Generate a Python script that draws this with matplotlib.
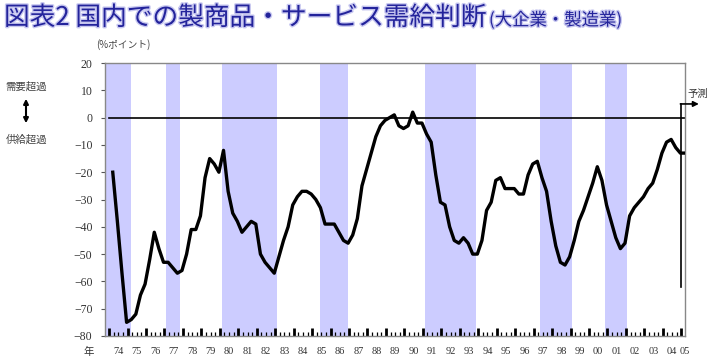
import numpy as np
import matplotlib
matplotlib.use("Agg")
import matplotlib.pyplot as plt
import matplotlib.patheffects as pe

# quarterly DI, 1974 Q1 .. 2005 Q1 (last point is the forecast)
di = [
    -20, -38, -57, -75,   # 74
    -74, -72, -65, -61,   # 75
    -52, -42, -48, -53,   # 76
    -53, -55, -57, -56,   # 77
    -50, -41, -41, -36,   # 78
    -22, -15, -17, -20,   # 79
    -12, -27, -35, -38,   # 80
    -42, -40, -38, -39,   # 81
    -50, -53, -55, -57,   # 82
    -51, -45, -40, -32,   # 83
    -29, -27, -27, -28,   # 84
    -30, -33, -39, -39,   # 85
    -39, -42, -45, -46,   # 86
    -43, -37, -25, -19,   # 87
    -13, -7, -3, -1,      # 88
    0, 1, -3, -4,         # 89
    -3, 2, -2, -2,        # 90
    -6, -9, -21, -31,     # 91
    -32, -40, -45, -46,   # 92
    -44, -46, -50, -50,   # 93
    -45, -34, -31, -23,   # 94
    -22, -26, -26, -26,   # 95
    -28, -28, -21, -17,   # 96
    -16, -22, -27, -38,   # 97
    -47, -53, -54, -51,   # 98
    -45, -38, -34, -29,   # 99
    -24, -18, -23, -32,   # 00
    -38, -44, -48, -46,   # 01
    -36, -33, -31, -29,   # 02
    -26, -24, -19, -13,   # 03
    -9, -8, -11, -13,     # 04
    -13,                  # 05 Q1 forecast
]
# recession periods (shaded)
recessions = [(1973.83, 1975.17), (1977.08, 1977.83), (1980.12, 1983.12),
              (1985.42, 1986.92), (1991.12, 1993.88), (1997.37, 1999.08),
              (2000.87, 2002.08)]
year_labels = ["74", "75", "76", "77", "78", "79", "80", "81", "82", "83", "84",
               "85", "86", "87", "88", "89", "90", "91", "92", "93", "94", "95",
               "96", "97", "98", "99", "00", "01", "02", "03", "04", "05"]

jp = ["Noto Sans CJK JP", "DejaVu Sans"]
serif = "Liberation Serif"

t = 1974.2 + 0.25 * np.arange(len(di))

fig = plt.figure(figsize=(7.17, 3.64), dpi=100)
ax = fig.add_axes([105 / 717, 28 / 364, 580 / 717, 273 / 364])

for a, b in recessions:
    ax.axvspan(a, b, color="#CCCCFF", lw=0, zorder=0)

ax.plot([1974.0, 2005.2], [0, 0], color="black", lw=1.2, zorder=2)
ax.plot(t, di, color="black", lw=2.4, solid_joinstyle="round", zorder=3)

# forecast marker
ax.plot([2005.0, 2005.0], [-62, 5], color="black", lw=1.2, zorder=4, clip_on=False)
ax.annotate("", xy=(2005.95, 5), xytext=(2004.95, 5),
            arrowprops=dict(arrowstyle="-|>", color="black", lw=1.2,
                            mutation_scale=8, shrinkA=0, shrinkB=0),
            annotation_clip=False)
ax.text(2005.9, 8.8, "予測", fontsize=7.5, family=jp, color="#333333",
        ha="center", va="center", clip_on=False)

ax.set_xlim(1973.78, 2005.2)
ax.set_ylim(-80, 20)
ax.set_yticks(np.arange(-80, 21, 10))
ax.set_yticklabels(["\u221280", "\u221270", "\u221260", "\u221250", "\u221240",
                    "\u221230", "\u221220", "\u221210", "0", "10", "20"],
                   family=serif, fontsize=8.5, color="#333333")
ax.tick_params(axis="y", direction="out", length=3, width=0.8, color="#555555", pad=6)

ax.set_xticks(np.arange(1974, 2006))
ax.set_xticks([y + q * 0.25 for y in range(1974, 2005) for q in (1, 2, 3)], minor=True)
ax.tick_params(axis="x", which="major", direction="in", length=6, width=2,
               color="black", labelbottom=False)
ax.tick_params(axis="x", which="minor", direction="in", length=3, width=0.9,
               color="black")
for i, lab in enumerate(year_labels):
    xpos = 1974.5 + i if i < len(year_labels) - 1 else 2005.2
    ax.text(xpos, -85.8, lab, family=serif, fontsize=7.5, color="#333333",
            ha="center", va="center")
ax.text(1972.9, -85.8, "年", family=jp, fontsize=7.5, color="#333333",
        ha="center", va="center", clip_on=False)

for s in ax.spines.values():
    s.set_color("#888888")
    s.set_linewidth(1.0)

# labels around the axes
fig.text(123 / 717, 1 - 45 / 364, "(%ポイント)", family=jp, fontsize=7,
         color="#444444", ha="center", va="center")
fig.text(26 / 717, 1 - 87 / 364, "需要超過", family=jp, fontsize=7.5,
         color="#444444", ha="center", va="center")
fig.text(26 / 717, 1 - 140 / 364, "供給超過", family=jp, fontsize=7.5,
         color="#444444", ha="center", va="center")
fig.add_artist(matplotlib.patches.FancyArrowPatch(
    (26 / 717, 1 - 96 / 364), (26 / 717, 1 - 126 / 364),
    transform=fig.transFigure, arrowstyle="<|-|>", mutation_scale=7,
    color="black", lw=1.5))

# title
shadow = [pe.withStroke(linewidth=2, foreground="#C8C8F0")]
t1 = fig.text(4 / 717, 1 - 18 / 364, "図表2 国内での製商品・サービス需給判断",
              family=jp, fontsize=18.5, color="#23239B", ha="left", va="center",
              path_effects=shadow)
fig.canvas.draw()
bb = t1.get_window_extent()
fig.text(bb.x1 / 717 + 0.002, 1 - 20 / 364, "(大企業・製造業)", family=jp,
         fontsize=12.5, color="#23239B", ha="left", va="center", path_effects=shadow)

fig.savefig("out.png", dpi=100)
